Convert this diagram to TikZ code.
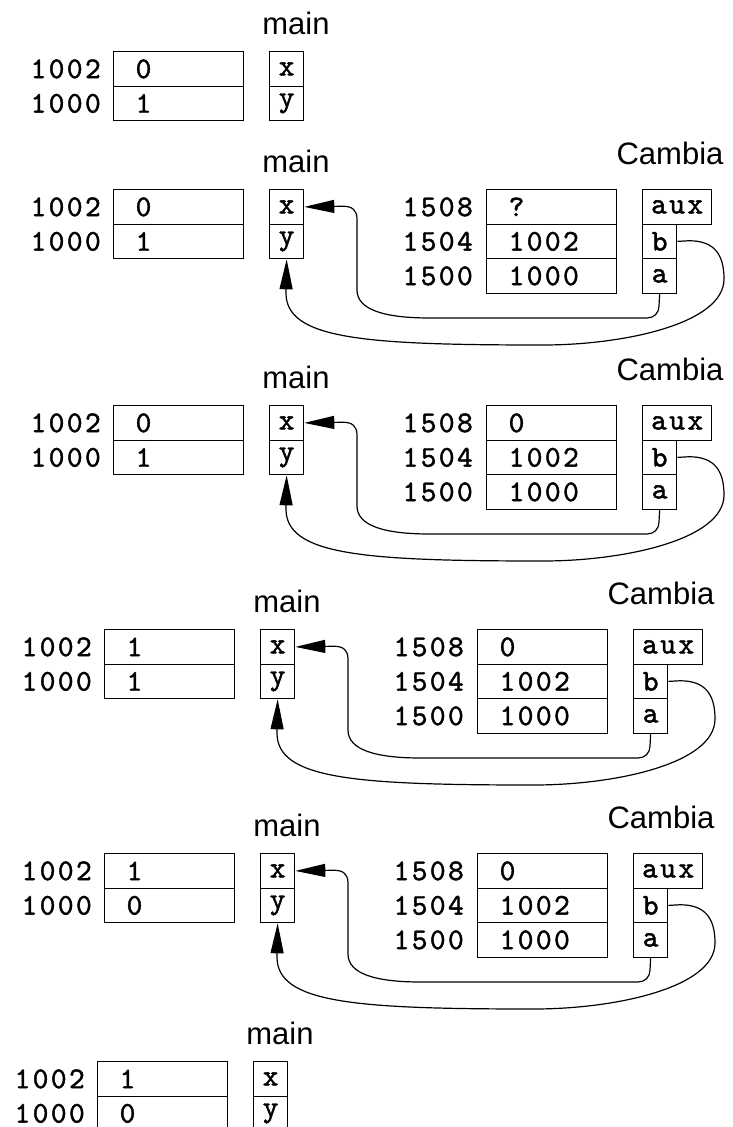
\documentclass[tikz,border=0pt]{standalone}
\usepackage{fontspec}
\setmainfont{Liberation Sans}
\newfontfamily\codefont{lmmono10-regular.otf}[FakeBold=1.5, LetterSpace=8]
\usetikzlibrary{arrows.meta,positioning}
\tikzset{
  cell/.style={draw, line width=1.3pt, minimum height=34.5pt, inner sep=0pt,
    font=\codefont\fontsize{30}{30}\selectfont},
  valcell/.style={cell, anchor=north west, minimum width=130pt, text width=86pt,
    inner xsep=22pt, align=left},
  namecell/.style={cell, anchor=north west, minimum width=34pt},
  auxcell/.style={cell, anchor=north west, minimum width=69pt},
  addr/.style={inner sep=0pt, font=\codefont\fontsize{30}{30}\selectfont},
  lbl/.style={inner sep=0pt, anchor=base, font=\fontsize{31}{31}\selectfont},
  conn/.style={line width=1.2pt, -{Triangle[length=30pt,width=13pt]}}
}
\newcommand{\mainpart}[5]{%
  \begin{scope}[shift={(#2,#3)}]
    \node[lbl] (#1main) at (183,-17) {main};
    \node[valcell] (#1v1) at (0,0) {#4};
    \node[valcell] (#1v2) at (0,34.5) {#5};
    \node[namecell] (#1x) at (156,0) {x};
    \node[namecell] (#1y) at (156,34.5) {y};
    \node[addr, left=12pt of #1v1] (#1ad1) {1002};
    \node[addr, left=12pt of #1v2] (#1ad2) {1000};
  \end{scope}}
\newcommand{\cambiapart}[4]{%
  \begin{scope}[shift={(#2,#3)}]
    \node[lbl] (#1cam) at (557,-25) {Cambia};
    \node[valcell] (#1c1) at (373,0) {#4};
    \node[valcell] (#1c2) at (373,34.5) {1002};
    \node[valcell] (#1c3) at (373,69) {1000};
    \node[auxcell] (#1aux) at (529,0) {aux};
    \node[namecell] (#1b) at (529,34.5) {b};
    \node[namecell] (#1a) at (529,69) {a};
    \node[addr, left=13pt of #1c1] (#1ca1) {1508};
    \node[addr, left=13pt of #1c2] (#1ca2) {1504};
    \node[addr, left=13pt of #1c3] (#1ca3) {1500};
    \draw[conn] (#1a.south) -- (546,117)
      .. controls +(0,7) and +(7,0) .. (534,129) -- (317,129)
      .. controls +(-45,0) and +(0,20) .. (244,101) -- (244,30)
      .. controls +(0,-9) and +(9,0) .. (230,17.25) -- (#1x.east);
    \draw[conn] (#1b.east) -- (576,51.75)
      .. controls +(25,0) and +(0,-25) .. (611,90)
      .. controls +(0,45) and +(80,0) .. (430,156)
      .. controls +(-180,0) and +(0,46) .. (173,104) -- (#1y.south);
  \end{scope}}
\begin{document}
\begin{tikzpicture}[x=1pt,y=-1pt]
  \useasboundingbox (0,0) rectangle (733,1127);
  \mainpart{A}{113}{51}{0}{1}
  \mainpart{B}{113}{189}{0}{1}
  \cambiapart{B}{113}{189}{?}
  \mainpart{C}{113}{405}{0}{1}
  \cambiapart{C}{113}{405}{0}
  \mainpart{D}{104}{629}{1}{1}
  \cambiapart{D}{104}{629}{0}
  \mainpart{E}{104}{853}{1}{0}
  \cambiapart{E}{104}{853}{0}
  \mainpart{F}{97}{1061}{1}{0}
\end{tikzpicture}
\end{document}
